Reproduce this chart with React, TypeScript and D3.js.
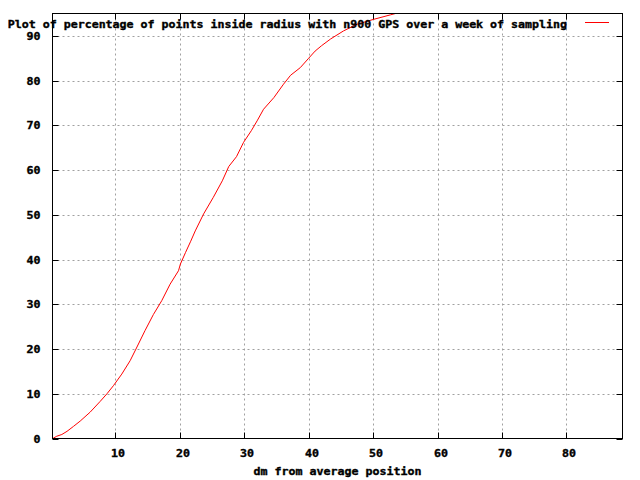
import React from "react";
import * as d3 from "d3";

const distances = [0.3, 0.9, 1.7, 2.5, 3.5, 4.55, 6.1, 7.65, 8.7, 9.7, 11.0, 12.3, 13.2, 14.6, 15.9, 17.2, 18.5, 19.8, 20.1, 20.9, 21.7, 22.4, 23.7, 25.2, 26.6, 27.6, 28.8, 29.9, 31.1, 32.0, 33.0, 34.6, 36.1, 37.2, 38.7, 40.0, 41.0, 42.0, 43.4, 45.4, 47.5, 50.1, 52.7, 55, 60, 70, 80, 88.7];
const percentages = [0.0, 0.5, 0.9, 1.6, 2.7, 3.9, 5.9, 8.3, 10.0, 11.8, 14.4, 17.4, 20.0, 24.1, 27.7, 30.8, 34.5, 37.5, 39.0, 41.6, 44.1, 46.4, 50.2, 53.9, 57.6, 60.8, 63.0, 66.2, 68.8, 71.0, 73.6, 76.2, 79.2, 81.2, 82.9, 85.0, 86.6, 87.8, 89.3, 91.1, 92.6, 93.7, 94.7, 95.6, 97.0, 98.8, 99.6, 100];
const xTicks = [10, 20, 30, 40, 50, 60, 70, 80];
const yTicks = [0, 10, 20, 30, 40, 50, 60, 70, 80, 90];
const titleText = "Plot of percentage of points inside radius with n900 GPS over a week of sampling";
const xLabel = "dm from average position";

const SX = 1.163;
function T({ x, y, anchor, children }: { x: number; y: number; anchor: string; children: React.ReactNode }) {
  return (
    <text transform={`translate(${x},${y}) scale(${SX},1)`} textAnchor={anchor}
      stroke="#000" strokeWidth={0.35}>{children}</text>
  );
}

export default function App() {
  const W = 640, H = 480;
  const left = 52.5, right = 622.5, top = 13.5, bottom = 438.5;
  const x = d3.scaleLinear().domain([0.25, 88.7]).range([left, right]);
  const y = d3.scaleLinear().domain([0, 95]).range([bottom, top]);
  const data = distances.map((d, i) => [d, percentages[i]] as [number, number]);
  const line = d3.line<[number, number]>().x(d => x(d[0])).y(d => y(d[1]));
  const font = "'DejaVu Sans Mono', monospace";
  const tick = 6;
  const grid = "#a0a0a0";
  return (
    <svg width={W} height={H} style={{ position: "absolute", left: 0, top: 0, background: "#fff" }}
      fontFamily={font} fontSize={10} fontWeight="bold">
      <defs>
        <clipPath id="plotclip">
          <rect x={left} y={top} width={right - left} height={bottom - top} />
        </clipPath>
      </defs>
      <rect x={0} y={0} width={W} height={H} fill="#fff" />
      {xTicks.map(t => (
        <line key={"gx" + t} x1={Math.round(x(t)) + 0.5} x2={Math.round(x(t)) + 0.5} y1={top} y2={bottom}
          stroke={grid} strokeDasharray="2,3" />
      ))}
      {yTicks.filter(t => t > 0).map(t => (
        <line key={"gy" + t} x1={left} x2={right} y1={Math.round(y(t)) + 0.5} y2={Math.round(y(t)) + 0.5}
          stroke={grid} strokeDasharray="2,3" />
      ))}
      {xTicks.map(t => {
        const px = Math.round(x(t)) + 0.5;
        return (
          <g key={"tx" + t}>
            <line x1={px} x2={px} y1={bottom} y2={bottom - tick} stroke="#000" />
            <line x1={px} x2={px} y1={top} y2={top + tick} stroke="#000" />
            <T x={px + 2.5} y={456.5} anchor="middle">{t}</T>
          </g>
        );
      })}
      {yTicks.map(t => {
        const py = Math.round(y(t)) + 0.5;
        return (
          <g key={"ty" + t}>
            <line x1={left} x2={left + tick} y1={py} y2={py} stroke="#000" />
            <line x1={right} x2={right - tick} y1={py} y2={py} stroke="#000" />
            <T x={40.5} y={py + 3.8} anchor="end">{t}</T>
          </g>
        );
      })}
      <path d={line(data) || ""} fill="none" stroke="#ff0000" strokeWidth={1} clipPath="url(#plotclip)" />
      <rect x={left} y={top} width={right - left} height={bottom - top} fill="none" stroke="#000" />
      <T x={567} y={28} anchor="end">{titleText}</T>
      <line x1={585} x2={609} y1={22.5} y2={22.5} stroke="#ff0000" />
      <T x={(left + right) / 2} y={474.5} anchor="middle">{xLabel}</T>
    </svg>
  );
}
